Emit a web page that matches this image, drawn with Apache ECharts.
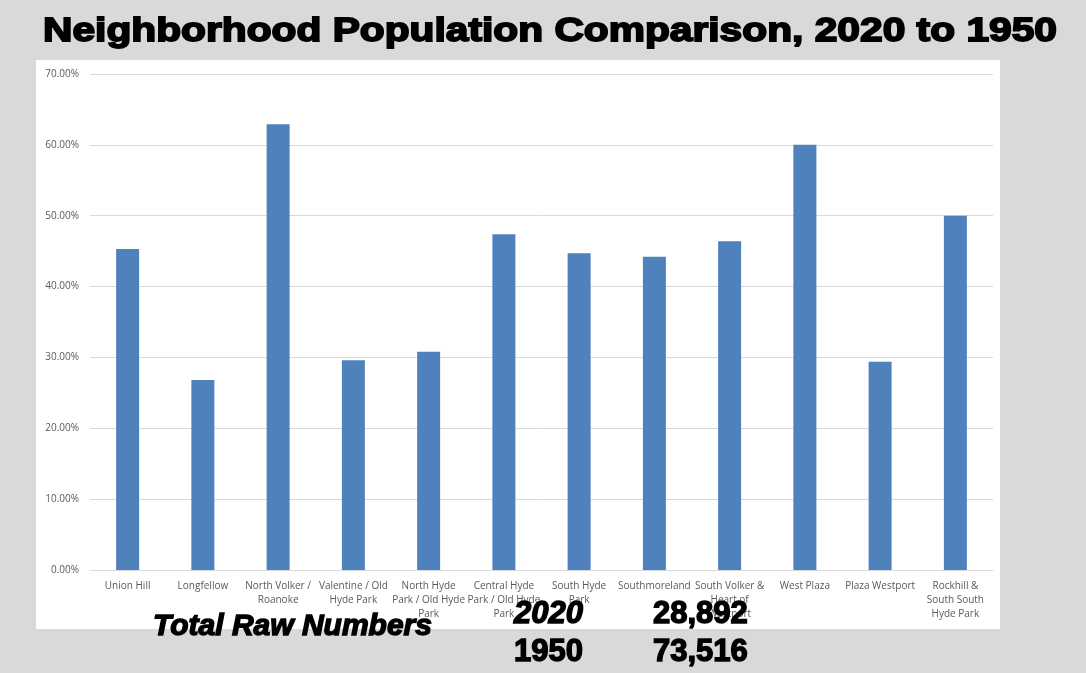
<!DOCTYPE html>
<html>
<head>
<meta charset="utf-8">
<script src="https://cdn.jsdelivr.net/npm/echarts@6/dist/echarts.min.js"></script>
<style>
html,body{margin:0;padding:0;background:#d9d9d9;}
#chart{width:1086px;height:673px;}
</style>
</head>
<body>
<div id="chart"></div>
<script>
const titleText = 'Neighborhood Population Comparison, 2020 to 1950';
const categories = [
  'Union Hill',
  'Longfellow',
  'North Volker /\nRoanoke',
  'Valentine / Old\nHyde Park',
  'North Hyde\nPark / Old Hyde\nPark',
  'Central Hyde\nPark / Old Hyde\nPark',
  'South Hyde\nPark',
  'Southmoreland',
  'South Volker &\nHeart of\nWestport',
  'West Plaza',
  'Plaza Westport',
  'Rockhill &\nSouth South\nHyde Park'
];
const ratioPercent = [45.3, 26.8, 62.9, 29.6, 30.8, 47.4, 44.7, 44.2, 46.4, 60.0, 29.4, 50.0];
const yTicks = { min: 0, max: 70, interval: 10 };
const totalsLabel = 'Total Raw Numbers';
const totalYears = ['2020', '1950'];
const totalCounts = ['28,892', '73,516'];

const chart = echarts.init(document.getElementById('chart'));

// measure title to stretch it to reference width
const cv = document.createElement('canvas').getContext('2d');
cv.font = 'bold 31px "Liberation Sans", sans-serif';
const tw = cv.measureText(titleText).width;
const titleScale = 1014 / tw;

chart.setOption({
  backgroundColor: '#d9d9d9',
  animation: false,
  grid: { left: 90, right: 93, top: 74, bottom: 103 },
  xAxis: {
    type: 'category',
    data: categories,
    axisLine: { lineStyle: { color: '#d9d9d9', width: 1 } },
    axisTick: { show: false },
    axisLabel: {
      interval: 0,
      color: '#595959',
      fontFamily: 'Open Sans',
      fontSize: 10,
      lineHeight: 14,
      margin: 9
    }
  },
  yAxis: {
    type: 'value',
    min: yTicks.min,
    max: yTicks.max,
    interval: yTicks.interval,
    axisLine: { show: false },
    axisTick: { show: false },
    splitLine: { lineStyle: { color: '#d9d9d9', width: 1 } },
    axisLabel: {
      color: '#595959',
      fontFamily: 'Open Sans',
      fontSize: 10,
      margin: 11,
      formatter: v => v.toFixed(2) + '%'
    }
  },
  series: [{
    type: 'bar',
    data: ratioPercent,
    barWidth: 23,
    itemStyle: { color: '#4f81bd' }
  }],
  graphic: [
    { type: 'rect', z: -10, shape: { x: 36, y: 60, width: 964, height: 569 }, style: { fill: '#ffffff' } },
    {
      type: 'text', z: 100, x: 43, y: 32, scaleX: titleScale, scaleY: 1.1,
      style: {
        text: titleText, fill: '#000', fontFamily: 'Liberation Sans', fontWeight: 'bold', fontSize: 31,
        verticalAlign: 'middle', align: 'left', stroke: '#000', lineWidth: 1.6
      }
    },
    {
      type: 'text', z: 100, x: 153, y: 627,
      style: { text: totalsLabel, fill: '#000', fontFamily: 'Liberation Sans', fontWeight: 'bold', fontStyle: 'italic', fontSize: 30, verticalAlign: 'middle', stroke: '#000', lineWidth: 1.4 }
    },
    {
      type: 'text', z: 100, x: 514, y: 614,
      style: { text: totalYears[0], fill: '#000', fontFamily: 'Liberation Sans', fontWeight: 'bold', fontStyle: 'italic', fontSize: 31, verticalAlign: 'middle', stroke: '#000', lineWidth: 1.4 }
    },
    {
      type: 'text', z: 100, x: 653, y: 614,
      style: { text: totalCounts[0], fill: '#000', fontFamily: 'Liberation Sans', fontWeight: 'bold', fontSize: 31, verticalAlign: 'middle', stroke: '#000', lineWidth: 1.4 }
    },
    {
      type: 'text', z: 100, x: 514, y: 652,
      style: { text: totalYears[1], fill: '#000', fontFamily: 'Liberation Sans', fontWeight: 'bold', fontSize: 31, verticalAlign: 'middle', stroke: '#000', lineWidth: 1.4 }
    },
    {
      type: 'text', z: 100, x: 653, y: 652,
      style: { text: totalCounts[1], fill: '#000', fontFamily: 'Liberation Sans', fontWeight: 'bold', fontSize: 31, verticalAlign: 'middle', stroke: '#000', lineWidth: 1.4 }
    }
  ]
});
</script>
</body>
</html>
